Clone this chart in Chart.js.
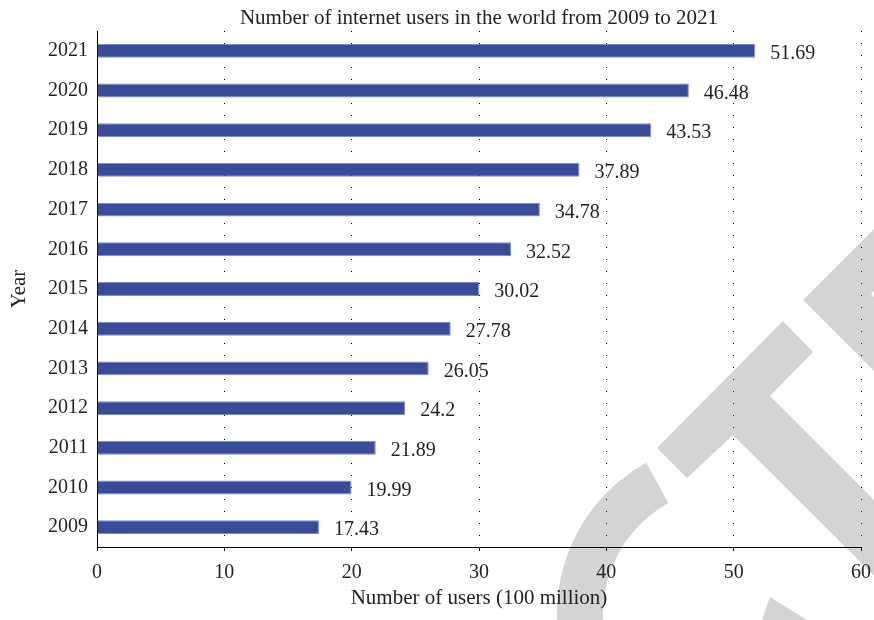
<!DOCTYPE html>
<html><head><meta charset="utf-8">
<script src="https://cdn.jsdelivr.net/npm/chart.js@4.4.1/dist/chart.umd.min.js"></script>
<style>html,body{margin:0;padding:0;background:#fff;}canvas{display:block}</style>
</head><body>
<canvas id="c" width="874" height="620"></canvas>
<script>
const years = ['2009','2010','2011','2012','2013','2014','2015','2016','2017','2018','2019','2020','2021'];
const users = [17.43, 19.99, 21.89, 24.2, 26.05, 27.78, 30.02, 32.52, 34.78, 37.89, 43.53, 46.48, 51.69];
const xTickValues = [0, 10, 20, 30, 40, 50, 60];
const chartTitle = 'Number of internet users in the world from 2009 to 2021';
const xTitle = 'Number of users (100 million)';
const yTitle = 'Year';

const FONT = 'Liberation Serif';
const TXT = '#231f20';
const BAR = '#3a4b98';

const watermark = {
  id: 'watermark',
  beforeDraw(chart) {
    const ctx = chart.ctx;
    const poly = (pts) => { ctx.beginPath(); ctx.moveTo(pts[0][0], pts[0][1]); for (let i = 1; i < pts.length; i++) ctx.lineTo(pts[i][0], pts[i][1]); ctx.closePath(); ctx.fill(); };
    const d = (a) => a * Math.PI / 180;
    ctx.save();
    ctx.fillStyle = '#d4d4d4';
    ctx.strokeStyle = '#d4d4d4';
    poly([[657,448],[783,321],[813,352],[770,396],[1000,626],[963,664],[733,435],[687,478]]);
    poly([[803,300],[874,229],[874,291],[871,294],[874,297],[874,371]]);
    ctx.lineWidth = 46;
    ctx.beginPath(); ctx.arc(730, 614, 150, d(241), d(100), true); ctx.stroke();
    poly([[770,597],[807,620],[762,620]]);
    ctx.restore();
  }
};

const valueLabels = {
  id: 'valueLabels',
  afterDatasetsDraw(chart) {
    const ctx = chart.ctx;
    const meta = chart.getDatasetMeta(0);
    ctx.save();
    ctx.font = '20px "' + FONT + '"';
    ctx.fillStyle = TXT;
    ctx.textAlign = 'left';
    ctx.textBaseline = 'middle';
    meta.data.forEach((bar, i) => {
      ctx.fillText(String(users[i]), bar.x + 15, bar.y + 3);
    });
    ctx.restore();
  }
};

const numFont = { family: FONT, size: 20, weight: 'normal' };
const textFont = { family: FONT, size: 21, weight: 'normal' };

new Chart(document.getElementById('c'), {
  type: 'bar',
  data: {
    labels: years,
    datasets: [{
      data: users,
      backgroundColor: BAR,
      borderColor: '#7d8cc6',
      borderWidth: 1,
      barPercentage: 0.35,
      categoryPercentage: 1
    }]
  },
  options: {
    responsive: false,
    animation: false,
    indexAxis: 'y',
    layout: { padding: { left: 0, right: 13, top: 0, bottom: 0 } },
    plugins: {
      legend: { display: false },
      tooltip: { enabled: false },
      title: {
        display: true, text: chartTitle, fullSize: false, color: TXT,
        font: textFont, padding: { top: 5.5, bottom: 0.3 }
      }
    },
    scales: {
      x: {
        min: 0, max: 60,
        afterBuildTicks(s) { s.ticks = xTickValues.map(v => ({ value: v })); },
        ticks: { color: TXT, font: numFont, padding: 10, maxRotation: 0 },
        grid: {
          color: (c) => c.index === 0 ? 'rgba(0,0,0,0)' : '#000',
          tickColor: '#000', tickLength: 4, tickWidth: 1, lineWidth: 1
        },
        border: { display: true, color: '#000', width: 1, dash: [1, 11] },
        title: { display: true, text: xTitle, color: TXT, font: textFont, padding: { top: 0, bottom: 9 } },
        afterFit(s) { s.height = 73; s.paddingLeft = 0; s.paddingRight = 0; }
      },
      y: {
        reverse: true,
        grid: { display: false, drawTicks: false },
        border: { display: true, color: '#000', width: 1 },
        ticks: { color: TXT, font: numFont, padding: 9 },
        title: { display: true, text: yTitle, color: TXT, font: textFont, padding: { top: 7, bottom: 0 } },
        afterFit(s) { s.width = 97; }
      }
    }
  },
  plugins: [watermark, valueLabels]
});
</script>
</body></html>
